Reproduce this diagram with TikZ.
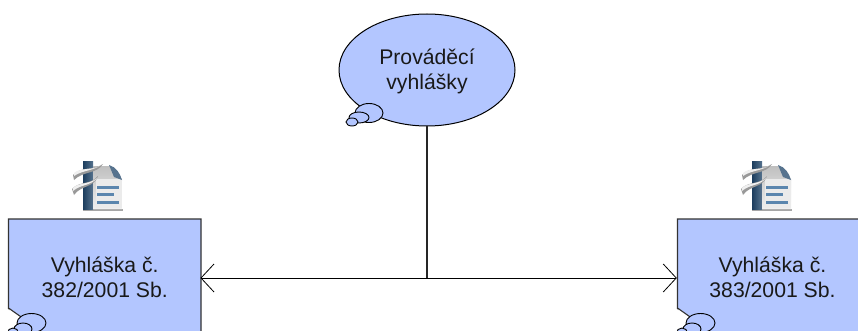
\documentclass[tikz,border=0pt]{standalone}
\usepackage{fontspec}
\setmainfont{Liberation Sans}
\usetikzlibrary{shapes.geometric,arrows.meta}
\definecolor{bub}{HTML}{B3C6FF}
\definecolor{spine}{HTML}{1F4468}
\definecolor{lineblue}{HTML}{5B86AE}
\tikzset{
  x=1pt,y=-1pt,
  outl/.style={draw=black!80,line width=1.1pt,fill=bub},
  lab/.style={align=center,font=\fontsize{21.2}{25}\selectfont,inner sep=0pt,text=black!90},
  boxlab/.style={lab,rectangle,minimum width=191pt,minimum height=120pt},
  cloud/.style={ellipse,draw=black,line width=.9pt,fill=bub,inner sep=0pt},
  conn/.style={draw=black,line width=.9pt},
  stem/.style={draw=black!85,line width=1.4pt},
  tip/.style={-{Straight Barb[length=13pt,width=28pt,line width=.8pt]}},
}
\newcommand{\docicon}[2]{%
  \begin{scope}[shift={(#1,#2)}]
    \fill[black!35] (10,46.5) rectangle (50,49);
    \shade[left color=spine!90!black,right color=spine!75!white] (10,0) rectangle (20,47);
    \shade[top color=black!25,bottom color=black!6] (20,4) -- (38,4) -- (49,17) -- (49,47) -- (20,47) -- cycle;
    \fill[black!8] (23,17) rectangle (49,46);
    \fill[spine!75] (36,3) .. controls (43,5) and (47,11) .. (49,18) -- (41,15) -- cycle;
    \foreach \yy/\xx in {25/46,32/41,40/46}
      \fill[lineblue] (24,\yy-1.5) rectangle (\xx,\yy+1.5);
    \fill[black!40] (0,13) .. controls (8,4) and (20,9) .. (30,2) .. controls (24,12) and (10,9) .. (1,18) -- cycle;
    \fill[black!6] (1,11) .. controls (8,5) and (20,9) .. (28,3) .. controls (20,9) and (10,8) .. (1,14) -- cycle;
    \fill[black!40] (-1,27) .. controls (6,19) and (18,23) .. (25,14) .. controls (21,26) and (8,23) .. (1,33) -- cycle;
    \fill[black!6] (0,26) .. controls (6,20) and (16,23) .. (24,16) .. controls (18,24) and (8,22) .. (0,29) -- cycle;
  \end{scope}}
\begin{document}
\begin{tikzpicture}
\path[use as bounding box] (0,0) rectangle (858,331);
\clip (0,0) rectangle (858,331);
\fill[white] (0,0) rectangle (858,331);
% boxes
\path[outl] (8.5,345) -- (8.5,308) -- (24,319) -- (60,345) -- (201,345) -- (201,219) -- (8.5,219) -- cycle;
\fill[white] (0,309) -- (8,309) -- (44,340) -- (0,340) -- cycle;
\path[outl] (677.5,345) -- (677.5,308) -- (693,319) -- (729,345) -- (870,345) -- (870,219) -- (677.5,219) -- cycle;
\fill[white] (669,309) -- (677,309) -- (713,340) -- (669,340) -- cycle;
% bubbles of boxes
\foreach \dx in {0,669}{
  \begin{scope}[xshift=\dx pt]
    \node[cloud,minimum width=29pt,minimum height=19pt] (cla\dx) at (31.5,323) {};
    \node[cloud,minimum width=18pt,minimum height=12pt] (clb\dx) at (23,329) {};
    \node[cloud,minimum width=11pt,minimum height=10pt] (clc\dx) at (13,333) {};
  \end{scope}}
\node[boxlab] (boxL) at (104.75,277.5) {Vyhláška č.\\382/2001 Sb.};
\node[boxlab] (boxR) at (772.5,277.5) {Vyhláška č.\\383/2001 Sb.};
% main callout
\node[ellipse,draw=black,line width=1pt,fill=bub,minimum width=176pt,minimum height=112pt,inner sep=0pt] (main) at (427,70) {};
\node[cloud,minimum width=28pt,minimum height=19pt] (m1) at (369,113) {};
\node[cloud,minimum width=20pt,minimum height=11pt] (m2) at (359,117.5) {};
\node[cloud,minimum width=12pt,minimum height=8pt] (m3) at (352,122) {};
\node[lab] (mainlab) at (427,71.5) {Prováděcí\\vyhlášky};
% connectors
\coordinate (junction) at (427,278);
\draw[stem] (main.south) -- (junction);
\draw[conn,tip] (junction) -- (boxL.east |- junction);
\draw[conn,tip] (junction) -- (boxR.west |- junction);
% icons
\docicon{73}{162}
\docicon{742}{162}
\end{tikzpicture}
\end{document}
